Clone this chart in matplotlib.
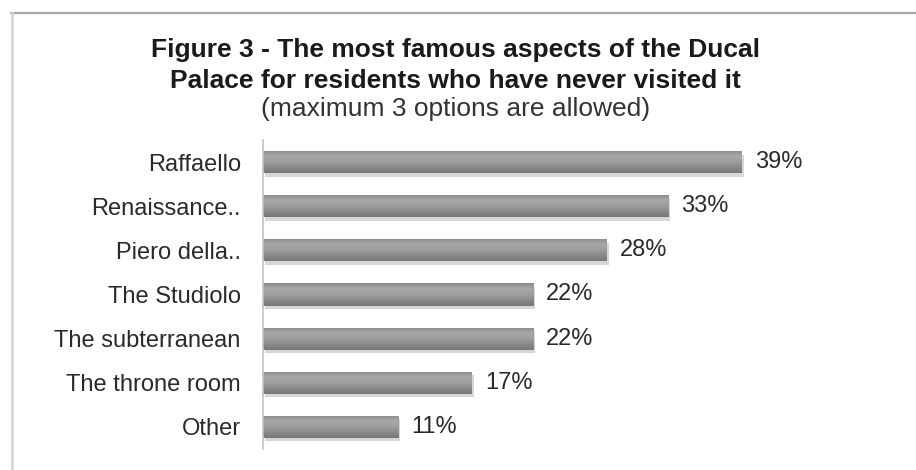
import matplotlib
matplotlib.use("Agg")
import matplotlib.pyplot as plt
import matplotlib.patheffects as pe
from matplotlib.colors import LinearSegmentedColormap
from matplotlib.lines import Line2D
import numpy as np

plt.rcParams['font.family'] = ['Liberation Sans', 'DejaVu Sans']

categories = ["Raffaello", "Renaissance..", "Piero della..", "The Studiolo",
              "The subterranean", "The throne room", "Other"]
values = [39, 33, 28, 22, 22, 17, 11]
value_labels = ["39%", "33%", "28%", "22%", "22%", "17%", "11%"]

title_lines = ["Figure 3 - The most famous aspects of the Ducal",
               "Palace for residents who have never visited it"]
subtitle = "(maximum 3 options are allowed)"

W, H = 916, 470
fig = plt.figure(figsize=(W / 100, H / 100), dpi=100)
fig.patch.set_facecolor("white")

# frame around the chart area (top and left edges)
fig.add_artist(Line2D([11 / W, 1.0], [1 - 13 / H, 1 - 13 / H],
                      transform=fig.transFigure, color="#a8a8a8", lw=1.6))
fig.add_artist(Line2D([12 / W, 12 / W], [0.0, 1 - 13 / H],
                      transform=fig.transFigure, color="#d4d4d4", lw=1.8))

# title
fig.text(0.497, 1 - 50 / H, title_lines[0], ha="center", va="center",
         fontsize=19, fontweight="bold", color="#1a1a1a")
fig.text(0.497, 1 - 81 / H, title_lines[1], ha="center", va="center",
         fontsize=19, fontweight="bold", color="#1a1a1a")
fig.text(0.497, 1 - 109 / H, subtitle, ha="center", va="center",
         fontsize=19, color="#333333")

ax = fig.add_axes([263 / W, 1 - 449 / H, 614 / W, 309 / H])
y = np.arange(len(categories))
bars = ax.barh(y, values, height=0.5, color="#959595", edgecolor="none",
               path_effects=[pe.SimplePatchShadow(offset=(1.5, -2.5),
                                                  shadow_rgbFace="#bdbdbd",
                                                  alpha=0.6), pe.Normal()])

# cylinder-like vertical shading on each bar
shade = LinearSegmentedColormap.from_list(
    "shade", ["#8a8a8a", "#a8a8a8", "#9e9e9e", "#8a8a8a", "#777777"])
grad = np.linspace(0, 1, 64).reshape(-1, 1)
for b in bars:
    x0, y0, w, h = b.get_x(), b.get_y(), b.get_width(), b.get_height()
    im = ax.imshow(grad, extent=(x0, x0 + w, y0 + h, y0), origin="upper",
                   aspect="auto", cmap=shade, interpolation="bilinear",
                   zorder=b.get_zorder() + 0.1)
    im.set_clip_path(b)

for b, lab in zip(bars, value_labels):
    ax.annotate(lab, (b.get_width(), b.get_y() + b.get_height() / 2),
                xytext=(9.4, 0), textcoords="offset points",
                ha="left", va="center", fontsize=17, color="#2a2a2a")

ax.set_xlim(0, 50)
ax.set_ylim(len(categories) - 0.5, -0.5)
ax.set_yticks(y)
ax.set_yticklabels(categories, fontsize=17, color="#2a2a2a")
ax.tick_params(axis="y", length=0, pad=16)
ax.set_xticks([])
for s in ["top", "right", "bottom"]:
    ax.spines[s].set_visible(False)
ax.spines["left"].set_color("#c4c4c4")
ax.spines["left"].set_linewidth(1.2)
ax.set_facecolor("none")

fig.savefig("out.png", dpi=100, facecolor="white")
